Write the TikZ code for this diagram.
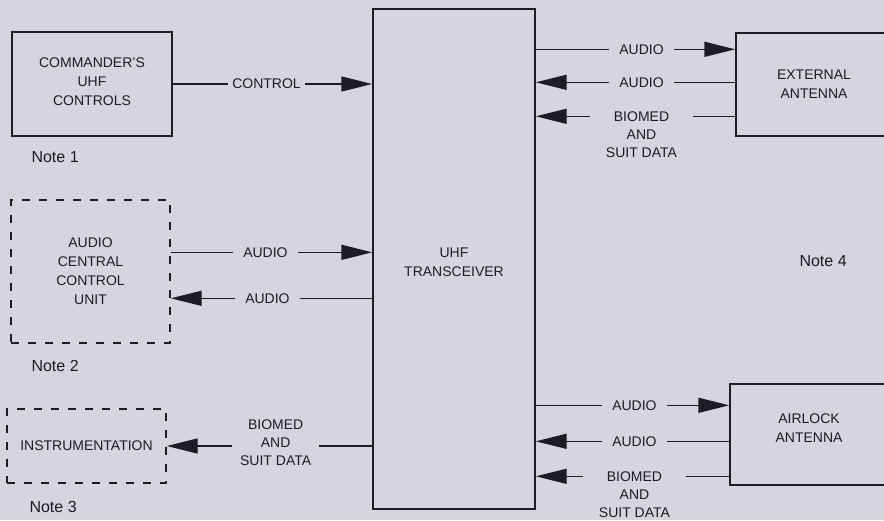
\documentclass[tikz,border=0pt]{standalone}
\usepackage{fontspec}
\setmainfont{Liberation Sans}
\usetikzlibrary{positioning, calc, arrows.meta}
\definecolor{paper}{RGB}{214,213,222}
\definecolor{ink}{RGB}{30,28,34}

\begin{document}
\begin{tikzpicture}[x=1pt, y=-1pt, >={Triangle[length=31pt,width=15pt]},
    every node/.style={text=ink},
    box/.style={draw=ink, line width=1.4pt, inner sep=0pt, align=center,
        font=\fontsize{14}{19}\selectfont},
    dbox/.style={box, dash pattern=on 8pt off 9pt},
    lbl/.style={fill=paper, inner xsep=10pt, inner ysep=0pt, align=center,
        font=\fontsize{14}{18}\selectfont},
    note/.style={anchor=west, font=\fontsize{16}{18}\selectfont},
    flow/.style={draw=ink, line width=1.4pt}]
    % Paper
    \fill[paper] (0,0) rectangle (884,520);
    \useasboundingbox (0,0) rectangle (884,520);

    % Boxes
    \node[box, minimum width=162pt, minimum height=500pt, text height=36pt] (uhf) at (454,259) {UHF\\TRANSCEIVER};
    \node[box, minimum width=160pt, minimum height=104pt, text depth=5pt] (cmd) at (92,84) {COMMANDER'S\\UHF\\CONTROLS};
    \node[dbox, minimum width=159pt, minimum height=143pt] (acu) at (90.5,271.5) {AUDIO\\CENTRAL\\CONTROL\\UNIT};
    \node[dbox, minimum width=159pt, minimum height=74pt] (inst) at (86.5,446) {INSTRUMENTATION};
    \node[box, minimum width=156pt, minimum height=103pt] (ext) at (814,84.5) {EXTERNAL\\ANTENNA};
    \node[box, minimum width=158pt, minimum height=101pt, text depth=12pt] (air) at (809,434.5) {AIRLOCK\\ANTENNA};

    % Notes
    \node[note] (n1) at (28,157) {Note 1};
    \node[note] (n2) at (28,366) {Note 2};
    \node[note] (n3) at (26,507) {Note 3};
    \node[note] (n4) at (796,261) {Note 4};

    % Tap points
    \coordinate (a1) at ([yshift=-53pt]acu.north east);
    \coordinate (a2) at ([yshift=-99pt]acu.north east);
    \coordinate (e1) at ([yshift=-17pt]ext.north west);
    \coordinate (e2) at ([yshift=-50pt]ext.north west);
    \coordinate (e3) at ([yshift=-84pt]ext.north west);
    \coordinate (r1) at ([yshift=-22pt]air.north west);
    \coordinate (r2) at ([yshift=-58pt]air.north west);
    \coordinate (r3) at ([yshift=-93pt]air.north west);

    % Left side
    \draw[flow, ->] (cmd.east) -- (cmd.east -| uhf.west) node[lbl, pos=.47, inner xsep=4pt] {CONTROL};
    \draw[flow, ->] (a1) -- (a1 -| uhf.west) node[lbl, pos=.47] {AUDIO};
    \draw[flow, ->] (a2 -| uhf.west) -- (a2) node[lbl, pos=.52] {AUDIO};
    \draw[flow, ->] (inst.east -| uhf.west) -- (inst.east)
        node[lbl, pos=.47, yshift=3pt, inner xsep=8pt] {BIOMED\\AND\\SUIT DATA};

    % Right side, external antenna
    \draw[flow, ->] (e1 -| uhf.east) -- (e1) node[lbl, pos=.53] {AUDIO};
    \draw[flow, ->] (e2) -- (e2 -| uhf.east) node[lbl, pos=.47] {AUDIO};
    \draw[flow, ->] (e3) -- (e3 -| uhf.east)
        node[lbl, pos=.47, anchor=north, yshift=5pt, inner xsep=16pt] {BIOMED\\AND\\SUIT DATA};

    % Right side, airlock antenna
    \draw[flow, ->] (r1 -| uhf.east) -- (r1) node[lbl, pos=.51] {AUDIO};
    \draw[flow, ->] (r2) -- (r2 -| uhf.east) node[lbl, pos=.49] {AUDIO};
    \draw[flow, ->] (r3) -- (r3 -| uhf.east)
        node[lbl, pos=.49, anchor=north, yshift=5pt, inner xsep=16pt] {BIOMED\\AND\\SUIT DATA};
\end{tikzpicture}
\end{document}
